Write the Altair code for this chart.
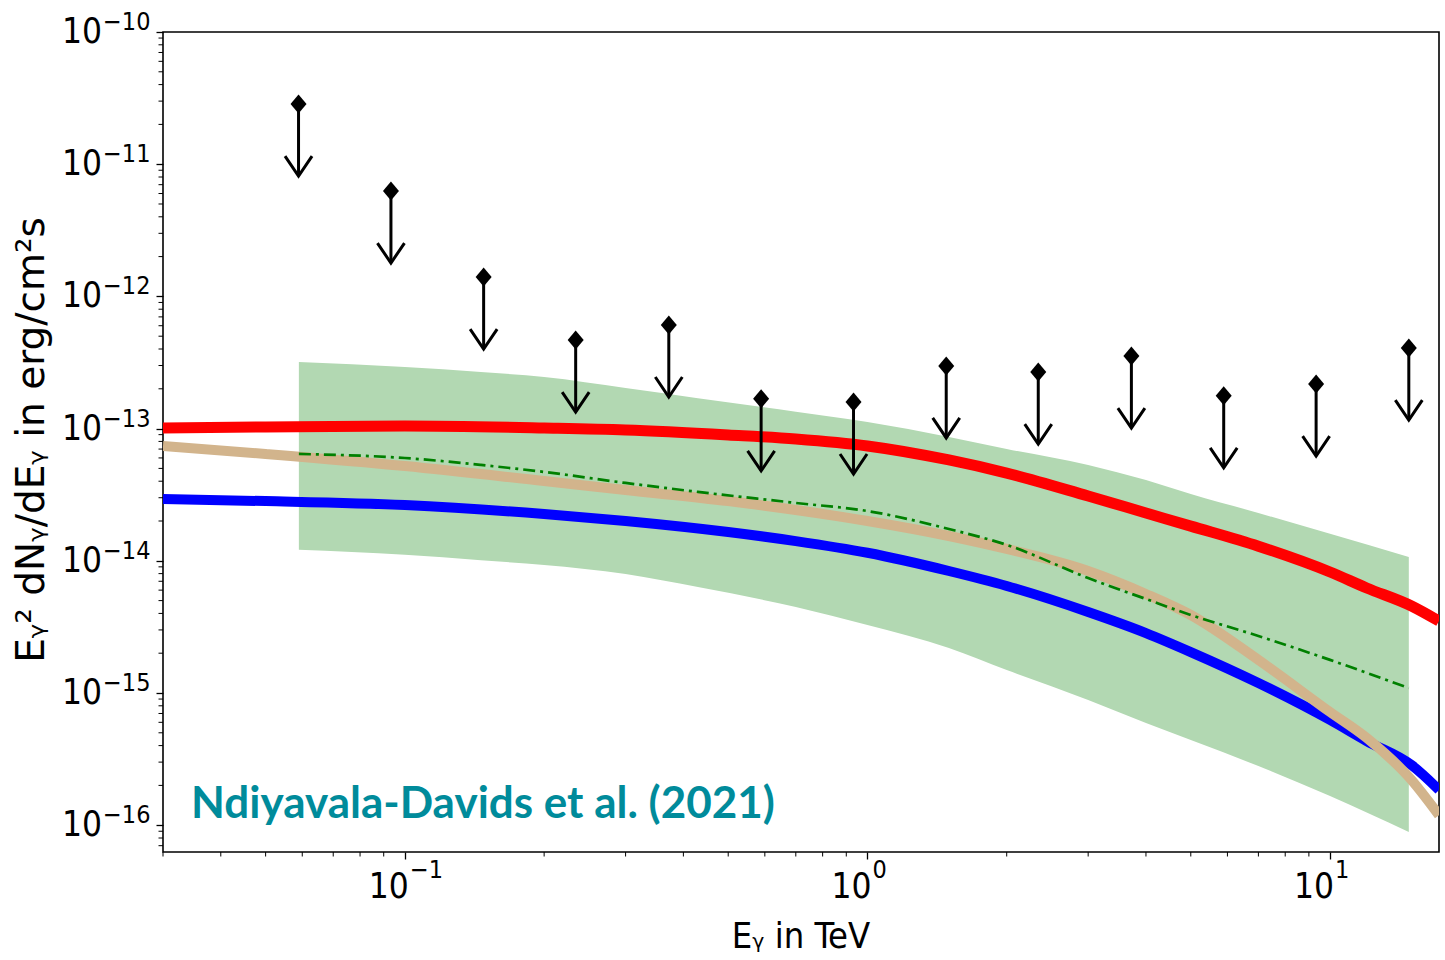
import altair as alt
import pandas as pd

# ---------------- data ----------------
energy = [0.03, 0.05, 0.1, 0.2, 0.3, 0.5, 0.7, 1.0, 1.5, 2.0, 3.0, 4.0, 5.0, 7.0, 10.0, 12.0, 15.0, 17.2]
red_flux = [1.01e-13, 1.03e-13, 1.046e-13, 1.01e-13, 9.76e-14, 8.95e-14, 8.34e-14, 7.39e-14, 5.79e-14,
            4.61e-14, 3.09e-14, 2.30e-14, 1.83e-14, 1.29e-14, 8.23e-15, 6.23e-15, 4.55e-15, 3.50e-15]
blue_flux = [2.93e-14, 2.83e-14, 2.64e-14, 2.26e-14, 2.00e-14, 1.65e-14, 1.41e-14, 1.15e-14, 8.37e-15,
             6.45e-15, 4.10e-15, 2.84e-15, 2.04e-15, 1.19e-15, 6.25e-16, 4.33e-16, 2.85e-16, 1.85e-16]
tan_flux = [7.39e-14, 6.43e-14, 5.21e-14, 4.01e-14, 3.43e-14, 2.83e-14, 2.42e-14, 2.00e-14, 1.54e-14,
            1.23e-14, 8.37e-15, 5.61e-15, 3.89e-15, 1.78e-15, 7.18e-16, 4.57e-16, 2.20e-16, 1.19e-16]

band_energy = [0.059, 0.1, 0.146, 0.2, 0.3, 0.43, 0.7, 1.0, 1.5, 2.0, 3.0, 4.0, 5.0, 7.0, 10.0, 14.8]
band_upper = [3.19e-13, 2.92e-13, 2.68e-13, 2.46e-13, 2.03e-13, 1.70e-13, 1.34e-13, 1.12e-13, 8.64e-14,
              7.01e-14, 5.31e-14, 4.08e-14, 3.20e-14, 2.30e-14, 1.60e-14, 1.07e-14]
band_lower = [1.21e-14, 1.11e-14, 1.01e-14, 9.29e-15, 7.95e-15, 6.33e-15, 4.47e-15, 3.27e-15, 2.19e-15,
              1.49e-15, 8.85e-16, 5.93e-16, 4.41e-16, 2.80e-16, 1.66e-16, 8.88e-17]
green_flux = [6.43e-14, 5.99e-14, 5.31e-14, 4.70e-14, 3.88e-14, 3.32e-14, 2.74e-14, 2.38e-14, 1.74e-14,
              1.32e-14, 7.41e-15, 5.14e-15, 3.89e-15, 2.70e-15, 1.78e-15, 1.09e-15]

ul_energy = [0.0589, 0.0933, 0.148, 0.234, 0.372, 0.589, 0.933, 1.48, 2.34, 3.72, 5.89, 9.33, 14.8]
ul_flux = [2.85e-11, 6.27e-12, 1.40e-12, 4.68e-13, 6.08e-13, 1.68e-13, 1.59e-13, 2.98e-13, 2.68e-13,
           3.54e-13, 1.77e-13, 2.17e-13, 4.07e-13]
arrow_decades = 0.545  # length of the upper-limit arrows, in decades

y_major = [1e-10, 1e-11, 1e-12, 1e-13, 1e-14, 1e-15, 1e-16]
y_exponents = ["\u221210", "\u221211", "\u221212", "\u221213", "\u221214", "\u221215", "\u221216"]
x_major = [0.1, 1.0, 10.0]
x_exponents = ["\u22121", "0", "1"]

x_domain = [0.03, 17.2]
y_domain = [6.27e-17, 1e-10]

annotation = ["Ndiyavala-Davids et al. (2021)"]
annotation_E = [0.0345]
annotation_F = [1.13e-16]

# ---------------- derived tables ----------------
x_minor = [m * 10.0 ** k for k in (-2, -1, 0, 1) for m in range(2, 10)]
x_minor = [v for v in x_minor if x_domain[0] * 0.999 <= v <= x_domain[1]]
y_minor = [m * 10.0 ** k for k in range(-17, -10) for m in range(2, 10)]
y_minor = [v for v in y_minor if y_domain[0] <= v <= y_domain[1]]

curves = pd.DataFrame({"E": energy, "red": red_flux, "blue": blue_flux, "tan": tan_flux})
band = pd.DataFrame({"E": band_energy, "hi": band_upper, "lo": band_lower, "g": green_flux})
ul = pd.DataFrame({"E": ul_energy, "F": ul_flux})
ul["tip"] = ul["F"] * 10 ** (-arrow_decades)
ylab = pd.DataFrame({"v": y_major, "base": ["10"] * len(y_major), "exp": y_exponents})
xlab = pd.DataFrame({"v": x_major, "base": ["10"] * len(x_major), "exp": x_exponents})
xmin_df = pd.DataFrame({"v": x_minor})
ymin_df = pd.DataFrame({"v": y_minor})
ann = pd.DataFrame({"E": annotation_E, "F": annotation_F, "t": annotation})
one = pd.DataFrame({"a": [0]})

NARROW = "Liberation Sans Narrow, DejaVu Sans Condensed, Liberation Sans, sans-serif"

xscale = alt.Scale(type="log", domain=x_domain, nice=False, clamp=False)
yscale = alt.Scale(type="log", domain=y_domain, nice=False)
xaxis = alt.Axis(values=x_major, labels=False, domain=False, grid=False, ticks=True,
                 tickSize=7, tickWidth=1.3, tickColor="black", title=None)
yaxis = alt.Axis(values=y_major, labels=False, domain=False, grid=False, ticks=True,
                 tickSize=7, tickWidth=1.3, tickColor="black", title=None)


def X(f):
    return alt.X(f"{f}:Q", scale=xscale, axis=xaxis)


def Y(f):
    return alt.Y(f"{f}:Q", scale=yscale, axis=yaxis)


band_layer = alt.Chart(band).mark_area(color="#b2d8b2", opacity=1, interpolate="monotone").encode(
    x=X("E"), y=Y("hi"), y2="lo:Q")

blue_layer = alt.Chart(curves).mark_line(color="#0000ff", strokeWidth=10, clip=True,
                                         interpolate="monotone").encode(x=X("E"), y=Y("blue"))
tan_layer = alt.Chart(curves).mark_line(color="#d2b48c", strokeWidth=10, clip=True,
                                        interpolate="monotone").encode(x=X("E"), y=Y("tan"))
green_layer = alt.Chart(band).mark_line(color="#008000", strokeWidth=2.7, strokeDash=[12, 5, 3, 5],
                                        interpolate="monotone").encode(x=X("E"), y=Y("g"))
red_layer = alt.Chart(curves).mark_line(color="#ff0000", strokeWidth=11, clip=True,
                                        interpolate="monotone").encode(x=X("E"), y=Y("red"))

shafts = alt.Chart(ul).mark_rule(color="black", strokeWidth=3).encode(x=X("E"), y=Y("F"), y2="tip:Q")
diamonds = alt.Chart(ul).mark_point(shape="M0,-0.95L0.8,0L0,0.95L-0.8,0Z", filled=True, size=400,
                                    color="black", opacity=1).encode(x=X("E"), y=Y("F"))
heads = alt.Chart(ul).mark_point(shape="M-1.35,-2L0,0L1.35,-2", filled=False, size=400,
                                 color="black", strokeWidth=3, opacity=1).encode(x=X("E"), y=Y("tip"))

# minor ticks
xminor_layer = alt.Chart(xmin_df).mark_rule(color="black", strokeWidth=1).encode(
    x=X("v"), y=alt.value(820), y2=alt.value(824.5))
yminor_layer = alt.Chart(ymin_df).mark_rule(color="black", strokeWidth=1).encode(
    y=Y("v"), x=alt.value(-4.5), x2=alt.value(0))

# tick labels
ybase = alt.Chart(ylab).mark_text(align="right", baseline="middle", font=NARROW, fontSize=35,
                                  color="black").encode(y=Y("v"), x=alt.value(-61), text="base:N")
yexp = alt.Chart(ylab).mark_text(align="left", baseline="middle", font=NARROW, fontSize=25,
                                 color="black", dy=-10).encode(y=Y("v"), x=alt.value(-60), text="exp:N")
xbase = alt.Chart(xlab).mark_text(align="right", baseline="alphabetic", font=NARROW, fontSize=35,
                                  color="black", dx=4).encode(x=X("v"), y=alt.value(866), text="base:N")
xexp = alt.Chart(xlab).mark_text(align="left", baseline="alphabetic", font=NARROW, fontSize=25,
                                 color="black", dx=5).encode(x=X("v"), y=alt.value(846), text="exp:N")

xtitle = alt.Chart(one).mark_text(text="E\u1d67 in TeV", font=NARROW, fontSize=36, color="black",
                                  align="center", baseline="alphabetic").encode(
    x=alt.value(638), y=alt.value(916))
ytitle = alt.Chart(one).mark_text(text="E\u1d67\u00b2 dN\u1d67/dE\u1d67 in erg/cm\u00b2s", font="DejaVu Sans",
                                  fontSize=39, color="black", angle=270, align="center",
                                  baseline="middle").encode(x=alt.value(-131), y=alt.value(408))

ann_layer = alt.Chart(ann).mark_text(font="Lato", fontWeight="bold", fontSize=44, color="#008b9b",
                                     align="left", baseline="alphabetic").encode(
    x=X("E"), y=Y("F"), text="t:N")

chart = alt.layer(
    band_layer, blue_layer, tan_layer, green_layer, red_layer,
    shafts, heads, diamonds,
    xminor_layer, yminor_layer, ybase, yexp, xbase, xexp, xtitle, ytitle, ann_layer,
).properties(
    width=1276, height=820,
    autosize=alt.AutoSizeParams(type="none"),
    padding={"left": 163, "top": 32, "right": 6, "bottom": 108},
    background="white",
).configure_view(stroke="black", strokeWidth=1.6)

chart.save("out.html", embed_options={"renderer": "svg", "actions": False})
